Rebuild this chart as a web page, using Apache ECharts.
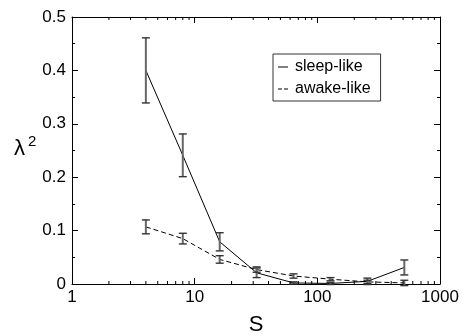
<!DOCTYPE html>
<html>
<head>
<meta charset="utf-8">
<script src="https://cdn.jsdelivr.net/npm/echarts@6/dist/echarts.min.js"></script>
<style>html,body{margin:0;padding:0;background:#fff}#c{width:465px;height:336px}</style>
</head>
<body>
<div id="c"></div>
<script>
var xs = [4, 8, 16, 32, 64, 128, 256, 512];
var sleep = [0.400, 0.241, 0.079, 0.021, 0.002, 0.001, 0.005, 0.031];
var sleepErr = [0.061, 0.040, 0.017, 0.009, 0.002, 0.002, 0.006, 0.014];
var awake = [0.107, 0.085, 0.046, 0.027, 0.015, 0.009, 0.004, 0.002];
var awakeErr = [0.013, 0.010, 0.007, 0.005, 0.004, 0.003, 0.003, 0.005];
var xMinorTicks = [2,3,4,5,6,7,8,9,20,30,40,50,60,70,80,90,200,300,400,500,600,700,800,900];
var xTickLabels = {1: '1', 10: '10', 100: '100', 1000: '1000'};
var seriesNames = ['sleep-like', 'awake-like'];
var yTitle = '{l|λ}{s|2}';
var xTitle = 'S';

var font = 'Liberation Sans, Arial, sans-serif';
var chart = echarts.init(document.getElementById('c'), null, {renderer: 'canvas'});

function pts(v) { return xs.map(function (x, i) { return [x, v[i]]; }); }
function errs(v, e) { return xs.map(function (x, i) { return [x, v[i] - e[i], v[i] + e[i]]; }); }

function errRender(params, api) {
  var lo = api.coord([api.value(0), api.value(1)]);
  var hi = api.coord([api.value(0), api.value(2)]);
  var w = 4;
  var st = {stroke: '#333', lineWidth: 1.4};
  return {type: 'group', children: [
    {type: 'line', shape: {x1: lo[0], y1: lo[1], x2: hi[0], y2: hi[1]}, style: {stroke: '#666', lineWidth: 2}},
    {type: 'line', shape: {x1: lo[0] - w, y1: lo[1], x2: lo[0] + w, y2: lo[1]}, style: st},
    {type: 'line', shape: {x1: hi[0] - w, y1: hi[1], x2: hi[0] + w, y2: hi[1]}, style: st}
  ]};
}

function minorRender(params, api) {
  var b = api.coord([api.value(0), 0]);
  var t = api.coord([api.value(0), 0.5]);
  var st = {stroke: '#000', lineWidth: 1};
  return {type: 'group', children: [
    {type: 'line', shape: {x1: b[0], y1: b[1], x2: b[0], y2: b[1] - 3}, style: st},
    {type: 'line', shape: {x1: t[0], y1: t[1], x2: t[0], y2: t[1] + 3}, style: st}
  ]};
}

var axisCommon = {
  axisLine: {show: true, onZero: false, lineStyle: {color: '#000', width: 1}},
  axisTick: {show: true, inside: true, length: 6, lineStyle: {color: '#000'}},
  splitLine: {show: false}
};

chart.setOption({
  animation: false,
  backgroundColor: '#fff',
  grid: {left: 72, right: 25, top: 17, bottom: 52, containLabel: false, outerBoundsMode: 'none'},
  graphic: [{
    type: 'text', left: 14, top: 134, silent: true,
    style: {text: yTitle, rich: {
      l: {fontFamily: font, fontSize: 22, fill: '#000', lineHeight: 26, verticalAlign: 'bottom'},
      s: {fontFamily: font, fontSize: 15, fill: '#000', verticalAlign: 'top', padding: [0, 0, 0, 3]}
    }}
  }],
  legend: {
    data: [
      {name: seriesNames[0], icon: 'path://M0,0L10,0L10,1L0,1Z'},
      {name: seriesNames[1], icon: 'path://M0,0L4,0L4,1L0,1ZM6,0L10,0L10,1L6,1Z'}
    ],
    orient: 'vertical',
    left: 273, top: 54,
    itemWidth: 10, itemHeight: 1, itemGap: 6,
    borderColor: '#333', borderWidth: 1, borderRadius: 0,
    padding: [5, 10, 4, 5],
    backgroundColor: '#fff',
    textStyle: {fontFamily: font, fontSize: 16, color: '#000', padding: [0, 0, 0, 2]}
  },
  xAxis: [
    Object.assign({
      type: 'log', logBase: 10, min: 1, max: 1000, position: 'bottom',
      axisLabel: {fontFamily: font, fontSize: 17, color: '#000', margin: 5,
        formatter: function (v) { return xTickLabels[Math.round(v)] || ''; }},
      name: xTitle, nameLocation: 'middle', nameGap: 30,
      nameTextStyle: {fontFamily: font, fontSize: 22, color: '#000'}
    }, axisCommon),
    Object.assign({
      type: 'log', logBase: 10, min: 1, max: 1000, position: 'top',
      axisLabel: {show: false}
    }, axisCommon)
  ],
  yAxis: [
    Object.assign({
      type: 'value', min: 0, max: 0.5, interval: 0.1, position: 'left',
      minorTick: {show: true, splitNumber: 2, length: 3, lineStyle: {color: '#000'}},
      axisLabel: {fontFamily: font, fontSize: 17, color: '#000', margin: 6,
        formatter: function (v) { return v === 0 ? '0' : String(Math.round(v * 10) / 10); }}
    }, axisCommon),
    Object.assign({
      type: 'value', min: 0, max: 0.5, interval: 0.1, position: 'right',
      minorTick: {show: true, splitNumber: 2, length: 3, lineStyle: {color: '#000'}},
      axisLabel: {show: false}
    }, axisCommon)
  ],
  series: [
    {name: seriesNames[0], type: 'line', data: pts(sleep), symbol: 'none',
      lineStyle: {color: '#000', width: 1, type: 'solid'}, itemStyle: {color: '#000'}, z: 3},
    {name: seriesNames[1], type: 'line', data: pts(awake), symbol: 'none',
      lineStyle: {color: '#000', width: 1, type: [5, 3]}, itemStyle: {color: '#000'}, z: 3},
    {type: 'custom', renderItem: errRender, data: errs(sleep, sleepErr), silent: true, z: 4,
      encode: {x: 0, y: [1, 2]}},
    {type: 'custom', renderItem: errRender, data: errs(awake, awakeErr), silent: true, z: 4,
      encode: {x: 0, y: [1, 2]}},
    {type: 'custom', renderItem: minorRender, data: xMinorTicks.map(function (v) { return [v]; }),
      silent: true, z: 5, encode: {x: 0}}
  ]
});
</script>
</body>
</html>
